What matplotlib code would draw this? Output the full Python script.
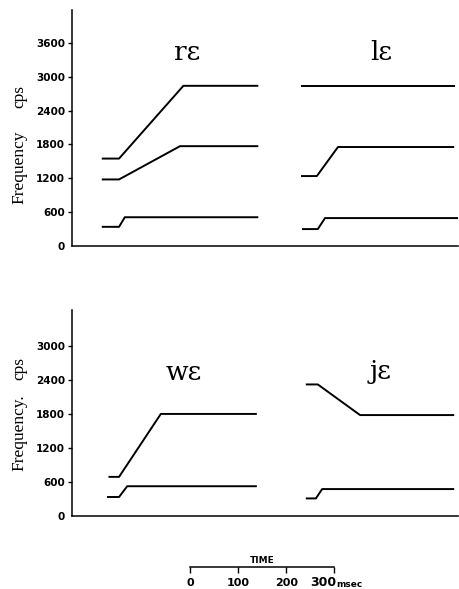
import matplotlib
matplotlib.use("Agg")
import matplotlib.pyplot as plt

# ---- data (time in ms from the frequency axis, frequency in cps) ----
re_F1_t = [62, 98, 110, 388]; re_F1_f = [340, 340, 510, 510]
re_F2_t = [62, 98, 225, 388]; re_F2_f = [1180, 1180, 1770, 1770]
re_F3_t = [62, 98, 232, 388]; re_F3_f = [1550, 1550, 2840, 2840]

le_F1_t = [479, 512, 527, 804]; le_F1_f = [300, 300, 495, 495]
le_F2_t = [477, 510, 554, 796]; le_F2_f = [1240, 1240, 1755, 1755]
le_F3_t = [477, 798];           le_F3_f = [2840, 2840]

we_F1_t = [73, 98, 115, 385];   we_F1_f = [335, 335, 525, 525]
we_F2_t = [76, 98, 185, 385];   we_F2_f = [690, 690, 1800, 1800]

je_F1_t = [487, 508, 521, 796]; je_F1_f = [310, 310, 475, 475]
je_F2_t = [487, 512, 600, 796]; je_F2_f = [2320, 2320, 1780, 1780]

top_yticks = [0, 600, 1200, 1800, 2400, 3000, 3600]
bot_yticks = [0, 600, 1200, 1800, 2400, 3000]
time_ticks = [0, 100, 200, 300]

top_labels = ["r\u025b", "l\u025b"]
bot_labels = ["w\u025b", "j\u025b"]

W, H = 460, 589
fig = plt.figure(figsize=(W / 100, H / 100), dpi=100)

def fx(px):
    return px / W

def fy(py):
    return 1 - py / H

LW = 1.4
tick_font = dict(family="DejaVu Sans", size=7.5, weight="bold")

def make_panel(top_px, bot_px, ylim_top, yticks):
    ax = fig.add_axes([fx(72), fy(bot_px), fx(458) - fx(72), (bot_px - top_px) / H])
    ax.set_xlim(0, 804)
    ax.set_ylim(0, ylim_top)
    for s in ["top", "right"]:
        ax.spines[s].set_visible(False)
    ax.spines["left"].set_linewidth(1.1)
    ax.spines["bottom"].set_linewidth(1.1)
    ax.set_xticks([])
    ax.set_yticks(yticks)
    ax.set_yticklabels([str(v) for v in yticks], **tick_font)
    ax.tick_params(axis="y", direction="out", length=3, width=1.0, pad=2)
    ax.yaxis.get_major_ticks()[0].tick1line.set_visible(False)
    return ax

ax1 = make_panel(10, 246, 4184, top_yticks)
ax2 = make_panel(310, 516, 3633, bot_yticks)

for t, f in [(re_F1_t, re_F1_f), (re_F2_t, re_F2_f), (re_F3_t, re_F3_f),
             (le_F1_t, le_F1_f), (le_F2_t, le_F2_f), (le_F3_t, le_F3_f)]:
    ax1.plot(t, f, color="black", lw=LW, solid_capstyle="butt")
for t, f in [(we_F1_t, we_F1_f), (we_F2_t, we_F2_f),
             (je_F1_t, je_F1_f), (je_F2_t, je_F2_f)]:
    ax2.plot(t, f, color="black", lw=LW, solid_capstyle="butt")

sym_font = dict(family="DejaVu Serif", size=19, ha="center", va="baseline")
fig.text(fx(187), fy(60), top_labels[0], **sym_font)
fig.text(fx(381), fy(60), top_labels[1], **sym_font)
fig.text(fx(184), fy(380), bot_labels[0], **sym_font)
fig.text(fx(381), fy(379), bot_labels[1], **sym_font)

lab_font = dict(family="Liberation Serif", size=12.5, rotation=90, ha="center", va="center")
fig.text(fx(19), fy(167), "Frequency", **lab_font)
fig.text(fx(19), fy(96), "cps", **lab_font)
fig.text(fx(19), fy(433), "Frequency.", **lab_font)
fig.text(fx(19), fy(369), "cps", **lab_font)

# time scale
axt = fig.add_axes([fx(190), fy(567), fx(334) - fx(190), 0.0005])
axt.set_xlim(0, 300)
axt.set_ylim(0, 1)
for s in ["top", "right", "left"]:
    axt.spines[s].set_visible(False)
axt.spines["bottom"].set_linewidth(1.1)
axt.set_yticks([])
axt.set_xticks(time_ticks)
axt.set_xticklabels([])
axt.tick_params(axis="x", direction="out", length=4, width=1.0)
label_dx = [0, 0, 1, -11]          # label nudges in pixels
for v, dx in zip(time_ticks, label_dx):
    axt.annotate(str(v), xy=(v, 0), xycoords=("data", "axes fraction"),
                 xytext=(dx * 0.72, -16 * 0.72), textcoords="offset points",
                 ha="center", va="center", family="DejaVu Sans",
                 size=9 if v == 300 else 8, weight="bold", annotation_clip=False)
fig.text(fx(262), fy(563), "TIME", family="DejaVu Sans", size=6.5, weight="bold",
         ha="center", va="baseline")
fig.text(fx(336), fy(587), "msec", family="DejaVu Sans", size=6.5, weight="bold",
         ha="left", va="baseline")

fig.savefig("out.png", dpi=100, facecolor="white")
